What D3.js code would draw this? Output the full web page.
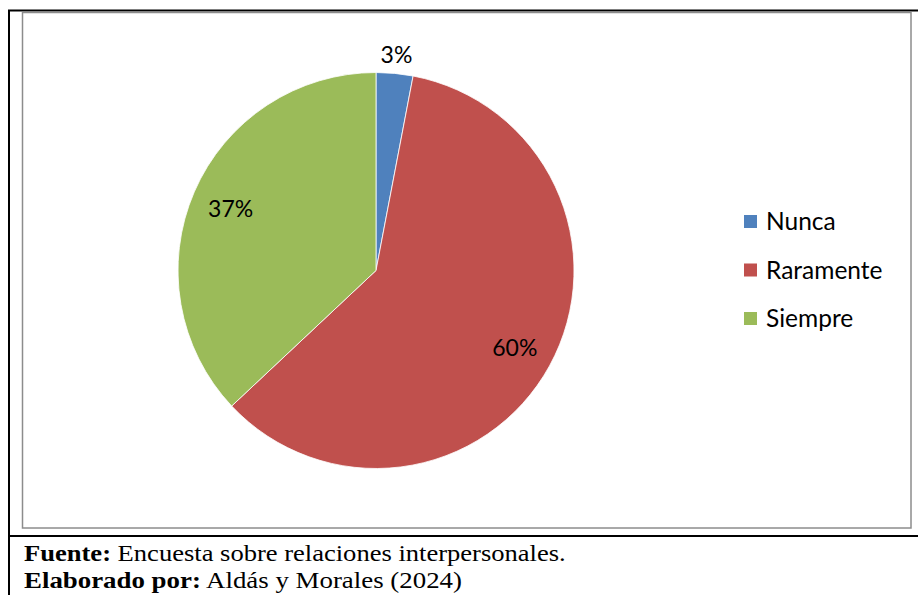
<!DOCTYPE html>
<html>
<head>
<meta charset="utf-8">
<script src="https://cdn.jsdelivr.net/npm/d3@7/dist/d3.min.js"></script>
<style>
  html, body { margin: 0; padding: 0; background: #fff; }
  svg { display: block; }
</style>
</head>
<body>
<svg id="chart" width="918" height="595"></svg>
<script>
// Survey answers and their shares (percent)
const categories = ["Nunca", "Raramente", "Siempre"];
const shares = [3, 60, 37];
const colors = ["#4F81BD", "#C0504D", "#9BBB59"];

const svg = d3.select("#chart");
const W = 918, H = 595;

// Outer frame (table cell lines)
svg.append("line").attr("x1", 8).attr("x2", W).attr("y1", 10.5).attr("y2", 10.5)
  .attr("stroke", "#000").attr("stroke-width", 2);
svg.append("line").attr("x1", 9).attr("x2", 9).attr("y1", 10).attr("y2", H)
  .attr("stroke", "#000").attr("stroke-width", 2);
svg.append("line").attr("x1", 8).attr("x2", W).attr("y1", 536).attr("y2", 536)
  .attr("stroke", "#000").attr("stroke-width", 2);

// Chart area border
svg.append("rect").attr("x", 22.5).attr("y", 12.5).attr("width", 888.5).attr("height", 515.5)
  .attr("fill", "#fff").attr("stroke", "#8c8c8c").attr("stroke-width", 1.5);

// Pie
const cx = 376, cy = 270.5, r = 198;
const pie = d3.pie().sort(null).value(d => d.value);
const data = categories.map((c, i) => ({ name: c, value: shares[i], color: colors[i] }));
const arcs = pie(data);
const arc = d3.arc().innerRadius(0).outerRadius(r);

const g = svg.append("g").attr("transform", `translate(${cx},${cy})`);
g.selectAll("path").data(arcs).join("path")
  .attr("d", arc)
  .attr("fill", d => d.data.color)
  .attr("stroke", "#fff")
  .attr("stroke-width", 0.8);

// Percentage labels: inside the large slices, just outside the thin one
const fmt = d => d3.format(".0f")(d.data.value) + "%";
const labelArc = d3.arc().innerRadius(r * 0.8).outerRadius(r * 0.8);
const outerArc = d3.arc().innerRadius(r * 1.1).outerRadius(r * 1.1);
const labelPoint = d => (d.data.value < 5 ? outerArc : labelArc).centroid(d);
g.append("g").selectAll("text").data(arcs).join("text")
  .attr("x", d => labelPoint(d)[0])
  .attr("y", d => labelPoint(d)[1])
  .attr("text-anchor", "middle")
  .attr("dominant-baseline", "central")
  .attr("font-family", "Lato, 'Open Sans', sans-serif")
  .attr("font-size", 23)
  .attr("fill", "#000")
  .text(fmt);

// Legend
const legend = svg.append("g").attr("transform", "translate(744,0)");
const ly = d3.scalePoint().domain(categories).range([221.5, 318.5]);
const items = legend.selectAll("g").data(data).join("g")
  .attr("transform", d => `translate(0,${ly(d.name)})`);
items.append("rect").attr("x", 0).attr("y", -6.5).attr("width", 13).attr("height", 13)
  .attr("fill", d => d.color);
items.append("text").attr("x", 22).attr("y", 8.5)
  .attr("font-family", "Lato, 'Open Sans', sans-serif")
  .attr("font-size", 24.5)
  .attr("fill", "#000")
  .text(d => d.name);

// Source notes below the chart
const notes = [
  { bold: "Fuente:", rest: " Encuesta sobre relaciones interpersonales.", y: 561, width: 542 },
  { bold: "Elaborado por:", rest: " Aldás y Morales (2024)", y: 588, width: 438 }
];
const nt = svg.append("g").selectAll("text").data(notes).join("text")
  .attr("x", 0).attr("y", 0)
  .attr("font-family", "'Liberation Serif', 'Times New Roman', serif")
  .attr("font-size", 24)
  .attr("fill", "#000");
nt.append("tspan").attr("font-weight", "bold").text(d => d.bold);
nt.append("tspan").text(d => d.rest);
// stretch each line horizontally to the set width
nt.each(function (d) {
  const w = this.getBBox().width;
  const sx = w > 0 ? d.width / w : 1;
  d3.select(this).attr("transform", `translate(24,${d.y}) scale(${sx},1)`);
});
</script>
</body>
</html>
